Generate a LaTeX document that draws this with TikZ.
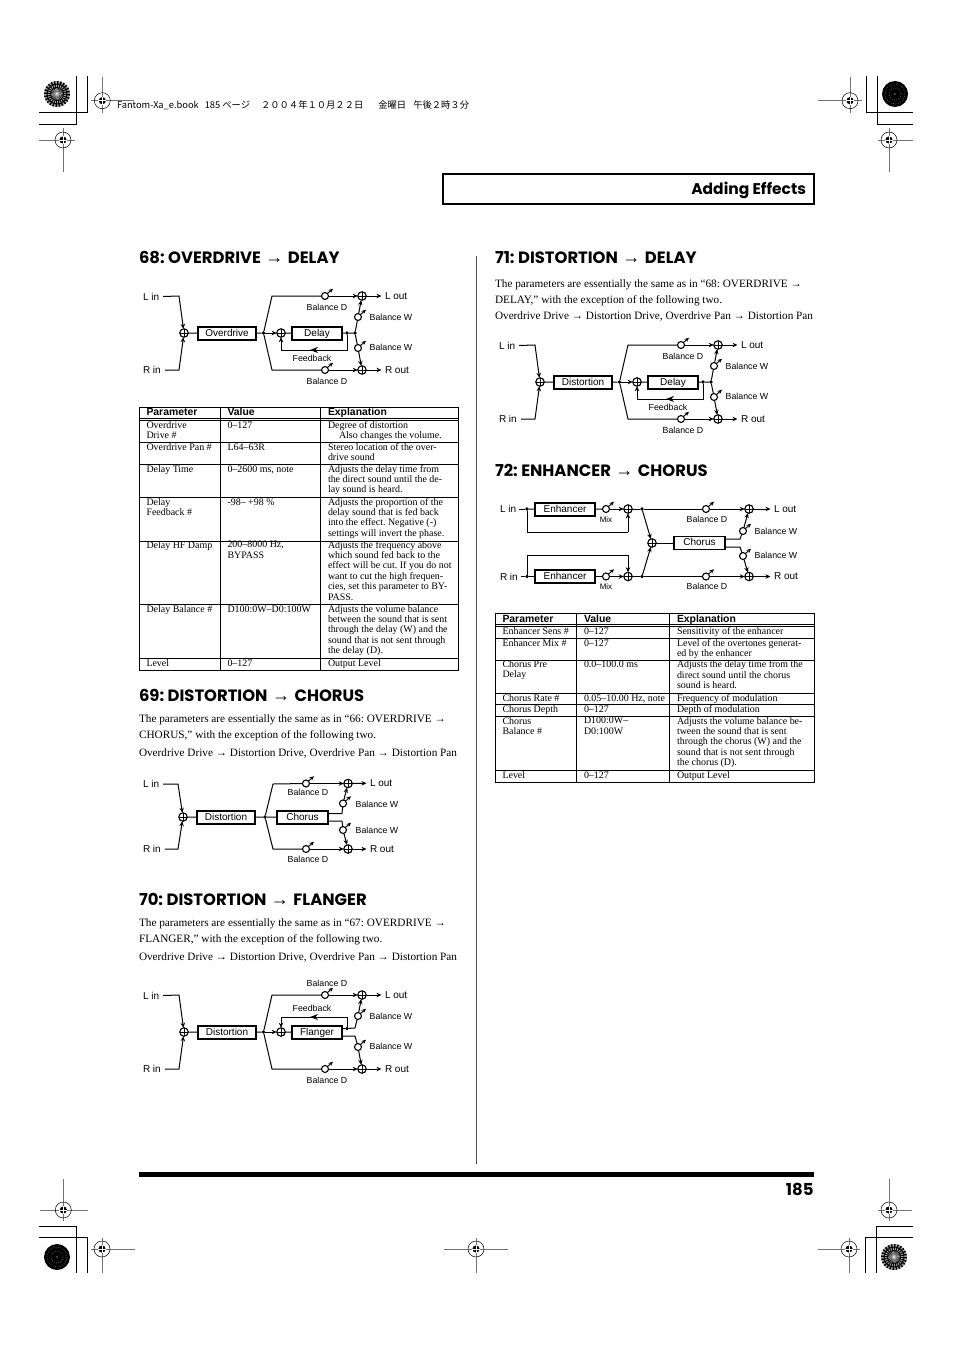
\documentclass[tikz,border=0pt]{standalone}
\usepackage{fontspec}
\setmainfont{Liberation Serif}
\setsansfont{Liberation Sans}
\newfontfamily\hdfont{Poppins}
\newfontfamily\jpfont{Noto Sans CJK JP}
\usetikzlibrary{arrows.meta}
\newcounter{cellno}
\newcommand\fs[2]{\fontsize{#1}{#2}\selectfont}
\frenchspacing
\tikzset{
  every node/.style={inner sep=0pt,outer sep=0pt},
  flow/.style={line width=1pt},
  tip/.style={flow,-{Stealth[length=5pt,width=4.4pt]}},
  outtip/.style={tip,shorten >=3.5pt},
  midtip/.style={flow,-{Stealth[length=8pt,width=6pt]}},
  sumj/.style={circle,draw,fill=white,line width=1.1pt,minimum size=8.5pt,
    path picture={\draw[line width=.55pt] (path picture bounding box.north)--(path picture bounding box.south)
      (path picture bounding box.west)--(path picture bounding box.east);}},
  knob/.style={circle,draw,fill=white,line width=1.1pt,minimum size=7pt},
  knobarrow/.style={line width=.9pt,-{Stealth[length=4.5pt,width=4pt]}},
  dot/.style={circle,fill=black,minimum size=3.6pt},
  fxbox/.style={draw,fill=white,line width=1.1pt,minimum width=#1,minimum height=13pt,text height=7.2pt,text depth=2pt,font=\sffamily\fs{10}{12}},
  fxbox/.default=50pt,
  io/.style={font=\sffamily\fs{10}{12},anchor=west},
  lab/.style={font=\sffamily\fs{8.8}{10}},
  cell/.style={anchor=north west,align=left,font=\fs{9.95}{10.4},yshift=3.9pt,execute at begin node=\strut},
  hcell/.style={anchor=base west,font=\sffamily\bfseries\fs{10.4}{12}},
  body/.style={anchor=north west,align=left,font=\fs{11.25}{16},yshift=5.6pt,execute at begin node=\strut},
  heading/.style={anchor=west,font=\hdfont\bfseries\fs{16.4}{18}},
  rule/.style={line width=.6pt},
  crop/.style={line width=.7pt,black},
  hair/.style={line width=.6pt,black!55},
}
\newcommand\Ar{{\rmfamily\mdseries\fs{18}{18}\ →\ }}
\newcommand\knobat[2]{\node[knob] (#1) at (#2) {};\draw[knobarrow] (#1.north east) -- ++(5.5,-4.8);}
% common frame of the delay / flanger diagrams (68, 70, 71)
\newcommand\dlBase[2]{%
  \node[io] (#1li) at (143,296.5) {L in};
  \node[io] (#1ri) at (143,370) {R in};
  \node[sumj] (#1s) at (184,333) {};
  \coordinate (#1a) at (179,296);
  \coordinate (#1b) at (179,370);
  \draw[tip] (#1li.east)++(4,0) -- (#1a) -- (#1s);
  \draw[tip] (#1ri.east)++(4,0) -- (#1b) -- (#1s);
  \node[fxbox=58pt] (#1fx) at (227,333.5) {#2};
  \draw[flow] (#1s) -- (#1fx);
  \node[dot] (#1j) at (263.5,333) {};
  \draw[flow] (#1fx) -- (#1j);
  \node[sumj] (#1i) at (281,333) {};
  \draw[tip] (#1j) -- (#1i);
  \coordinate (#1u) at (272,296);
  \coordinate (#1v) at (272,370);
  \knobat{#1kdu}{325,296}
  \knobat{#1kdl}{325,370}
  \node[sumj] (#1su) at (362,296) {};
  \node[sumj] (#1sl) at (362,370) {};
  \draw[flow] (#1j) -- (#1u) -- (#1kdu);
  \draw[flow] (#1j) -- (#1v) -- (#1kdl);
  \draw[tip] (#1kdu) -- (#1su);
  \draw[tip] (#1kdl) -- (#1sl);
  \node[io] (#1lo) at (385,296) {L out};
  \node[io] (#1ro) at (385,370) {R out};
  \draw[outtip] (#1su) -- (#1lo);
  \draw[outtip] (#1sl) -- (#1ro);
  \knobat{#1kwu}{358,317}
  \knobat{#1kwl}{358,348}
  \draw[tip] (#1kwu) -- (#1su);
  \draw[tip] (#1kwl) -- (#1sl);
  \node[lab] (#1lwu) at (391,317) {Balance W};
  \node[lab] (#1lwl) at (391,347) {Balance W};
}
% second stage with feedback running below the box
\newcommand\dlDelay[2]{%
  \node[fxbox] (#1fy) at (317,333.5) {#2};
  \draw[flow] (#1i) -- (#1fy);
  \node[dot] (#1d1) at (347,333) {};
  \node[dot] (#1d2) at (355,333) {};
  \draw[flow] (#1fy) -- (#1d1) -- (#1d2);
  \draw[flow] (#1d2) -- (#1kwu);
  \draw[flow] (#1d2) -- (#1kwl);
  \coordinate (#1f1) at (347,350);
  \coordinate (#1f2) at (281,350);
  \coordinate (#1f3) at (310,350);
  \draw[flow] (#1d1) -- (#1f1) -- (#1f2);
  \draw[tip] (#1f2) -- (#1i);
  \draw[midtip] (#1f1) -- (#1f3);
  \node[lab] (#1lf) at (312,358) {Feedback};
  \node[lab] (#1ldu) at (327,307) {Balance D};
  \node[lab] (#1ldl) at (327,381) {Balance D};
}
\newcommand\regmark[6]{%
  \draw[hair] (#3,#2) -- (#4,#2) (#1,#5) -- (#1,#6);
  \draw[line width=.5pt] (#1,#2) circle (8);
  \fill (#1,#2) circle (3.6);
  \draw[white,line width=.7pt] (#1-4,#2) -- (#1+4,#2) (#1,#2-4) -- (#1,#2+4);
}
\newcommand\sunburst[2]{%
  \fill[black!35] (#1,#2) circle (13);
  \foreach \a in {0,15,...,345} {
    \fill (#1,#2) ++(\a:2.5) -- ++(\a:10.5) arc[start angle=\a,end angle=\a+7.5,radius=13] -- cycle;
  }
  \draw[black,line width=.9pt] (#1,#2) circle (6.5) circle (10);
  \fill[white] (#1,#2) circle (1);
}
\newcommand\blackdisc[2]{%
  \fill (#1,#2) circle (13);
  \draw[black!55,line width=.6pt,dash pattern=on .8pt off 1.6pt] (#1,#2) circle (6) circle (10);
  \fill[white] (#1,#2) circle (.6);
}
\newcommand\tc[3]{\stepcounter{cellno}\node[cell] (c\arabic{cellno}) at (#1,#2) {#3};}
\newcommand\tablegrid[7]{% x0 x1 x2 x3 ytop yhead ybottom
  \draw[rule] (#1,#5) rectangle (#4,#7);
  \draw[rule] (#2,#5) -- (#2,#7) (#3,#5) -- (#3,#7);
  \draw[rule] (#1,#6) -- (#4,#6) (#1,#6+2) -- (#4,#6+2);
}
\begin{document}
\begin{tikzpicture}[x=1pt,y=-1pt]
\useasboundingbox (0,0) rectangle (954,1351);
\fill[white] (0,0) rectangle (954,1351);

%---- crop marks
\draw[crop] (87.7,76) -- (87.7,112.7) -- (39,112.7);
\draw[crop] (76.7,76) -- (76.7,124) -- (39,124);
\draw[crop] (866,76) -- (866,112.7) -- (913,112.7);
\draw[crop] (877,76) -- (877,124) -- (913,124);
\draw[crop] (76.7,1273) -- (76.7,1226) -- (39,1226);
\draw[crop] (87.7,1273) -- (87.7,1237) -- (39,1237);
\draw[crop] (876.5,1273) -- (876.5,1226) -- (913,1226);
\draw[crop] (865.6,1273) -- (865.6,1237) -- (913,1237);
\regmark{102.3}{100.7}{91}{134}{77}{113}
\regmark{63}{140}{39}{75}{128}{172}
\regmark{850}{100.7}{818}{862}{77}{113}
\regmark{889}{140}{878}{913}{128}{172}
\regmark{63.3}{1210}{40}{87.5}{1179}{1221}
\regmark{102}{1249}{91}{134.5}{1238}{1273}
\regmark{476}{1249}{444}{508}{1238}{1273}
\regmark{849}{1249}{818}{860}{1238}{1273}
\regmark{889}{1210}{878}{912}{1179}{1221}
\sunburst{57}{94}
\blackdisc{895}{94}
\blackdisc{57}{1257}
\sunburst{894}{1257}
\node[anchor=west,font=\jpfont\fs{9.3}{11}] (book) at (117,105) {Fantom-Xa\_e.book\hspace*{6pt}185 ページ\hspace*{11pt}２００４年１０月２２日\hspace*{15pt}金曜日\hspace*{7pt}午後２時３分};

%---- page furniture
\node[draw,line width=2pt,minimum width=370.5pt,minimum height=29.5pt] (titlebox) at (628.5,189) {};
\node[anchor=base east,font=\hdfont\bfseries\fs{15.5}{18}] (title) at (806,195) {Adding Effects};
\draw[line width=.5pt,black!70] (476,256) -- (476,1164);
\fill (139,1172) rectangle (814,1177);
\node[anchor=east,font=\hdfont\bfseries\fs{16.5}{18}] (pageno) at (813.5,1189) {185};

%---- headings
\node[heading] (h68) at (139,258) {68: OVERDRIVE\Ar DELAY};
\node[heading] (h69) at (139,695.5) {69: DISTORTION\Ar CHORUS};
\node[heading] (h70) at (139,899.5) {70: DISTORTION\Ar FLANGER};
\node[heading] (h71) at (495,258) {71: DISTORTION\Ar DELAY};
\node[heading] (h72) at (495,470.5) {72: ENHANCER\Ar CHORUS};

%---- paragraphs
\node[body] (p69) at (139,720.5) {The parameters are essentially the same as in “66: OVERDRIVE →\\CHORUS,” with the exception of the following two.};
\node[body] (q69) at (139,751) {Overdrive Drive → Distortion Drive, Overdrive Pan → Distortion Pan};
\node[body] (p70) at (139,924.5) {The parameters are essentially the same as in “67: OVERDRIVE →\\FLANGER,” with the exception of the following two.};
\node[body] (q70) at (139,955) {Overdrive Drive → Distortion Drive, Overdrive Pan → Distortion Pan};
\node[body] (p71) at (495,285) {The parameters are essentially the same as in “68: OVERDRIVE →\\DELAY,” with the exception of the following two.};
\node[body] (q71) at (495,314) {Overdrive Drive → Distortion Drive, Overdrive Pan → Distortion Pan};

%---- diagram 68
\begin{scope}
  \dlBase{a}{Overdrive}
  \dlDelay{a}{Delay}
\end{scope}

%---- diagram 71
\begin{scope}[shift={(356,49)}]
  \dlBase{d}{Distortion}
  \dlDelay{d}{Delay}
\end{scope}

%---- diagram 70
\begin{scope}[shift={(0,699)}]
  \dlBase{c}{Distortion}
  \node[fxbox] (cfy) at (317,333.5) {Flanger};
  \draw[flow] (ci) -- (cfy);
  \node[dot] (cd1) at (347,329.5) {};
  \coordinate (cd2) at (355,329);
  \coordinate (cd3) at (355,337);
  \coordinate (co1) at (342,329.5);
  \coordinate (co2) at (342,337);
  \draw[flow] (co1) -- (cd1) -- (cd2) -- (ckwu);
  \draw[flow] (co2) -- (cd3) -- (ckwl);
  \coordinate (cf1) at (347,318);
  \coordinate (cf2) at (281,318);
  \coordinate (cf3) at (310,318);
  \draw[flow] (cd1) -- (cf1) -- (cf2);
  \draw[tip] (cf2) -- (ci);
  \draw[midtip] (cf1) -- (cf3);
  \node[lab] (clf) at (312,309) {Feedback};
  \node[lab] (cldu) at (327,284) {Balance D};
  \node[lab] (cldl) at (327,381) {Balance D};
\end{scope}

%---- diagram 69
\node[io] (bli) at (143,784) {L in};
\node[io] (bri) at (143,849) {R in};
\node[sumj] (bs) at (183,817) {};
\coordinate (ba) at (178,784);
\coordinate (bb) at (178,849);
\draw[tip] (bli.east)++(4,0) -- (ba) -- (bs);
\draw[tip] (bri.east)++(4,0) -- (bb) -- (bs);
\node[fxbox=58pt] (bfx) at (226,817.5) {Distortion};
\draw[flow] (bs) -- (bfx);
\node[dot] (bj) at (265,817) {};
\draw[flow] (bfx) -- (bj);
\node[fxbox=51pt] (bfy) at (302.5,817.5) {Chorus};
\draw[flow] (bj) -- (bfy);
\coordinate (bu) at (273,784);
\coordinate (bv) at (273,849);
\knobat{bkdu}{306,783.5}
\knobat{bkdl}{306,849}
\node[sumj] (bsu) at (348,783.5) {};
\node[sumj] (bsl) at (348,849) {};
\draw[flow] (bj) -- (bu) -- (bkdu);
\draw[flow] (bj) -- (bv) -- (bkdl);
\draw[tip] (bkdu) -- (bsu);
\draw[tip] (bkdl) -- (bsl);
\node[io] (blo) at (370,783) {L out};
\node[io] (bro) at (370,849) {R out};
\draw[outtip] (bsu) -- (blo);
\draw[outtip] (bsl) -- (bro);
\knobat{bkwu}{343,803.5}
\knobat{bkwl}{343,830}
\coordinate (bo1) at (328,813.5);
\coordinate (bo2) at (342,813.5);
\coordinate (bo3) at (328,821);
\coordinate (bo4) at (342,821);
\draw[flow] (bo1) -- (bo2) -- (bkwu);
\draw[flow] (bo3) -- (bo4) -- (bkwl);
\draw[tip] (bkwu) -- (bsu);
\draw[tip] (bkwl) -- (bsl);
\node[lab] (blwu) at (377,804) {Balance W};
\node[lab] (blwl) at (377,830) {Balance W};
\node[lab] (bldu) at (308,792) {Balance D};
\node[lab] (bldl) at (308,859) {Balance D};

%---- diagram 72
\node[io] (eli) at (500,509) {L in};
\node[io] (eri) at (500,576.5) {R in};
\node[dot] (ej1) at (527,509) {};
\node[dot] (ej2) at (527,576.5) {};
\draw[flow] (eli.east) ++(3,0) -- (ej1);
\draw[flow] (eri.east) ++(3,0) -- (ej2);
\node[fxbox=60pt] (ebu) at (565,509.5) {Enhancer};
\node[fxbox=60pt] (ebl) at (565,576.5) {Enhancer};
\draw[flow] (ej1) -- (ebu);
\draw[flow] (ej2) -- (ebl);
\knobat{ekmu}{606,509}
\knobat{ekml}{606,576.5}
\node[sumj] (esu) at (628,509) {};
\node[sumj] (esl) at (628,576.5) {};
\draw[flow] (ebu) -- (ekmu);
\draw[flow] (ebl) -- (ekml);
\draw[tip] (ekmu) -- (esu);
\draw[tip] (ekml) -- (esl);
\coordinate (ec1) at (527,532);
\coordinate (ec2) at (628,532);
\coordinate (ec3) at (527,555);
\coordinate (ec4) at (628,555);
\draw[flow] (ej1) -- (ec1) -- (ec2);
\draw[tip] (ec2) -- (esu);
\draw[flow] (ej2) -- (ec3) -- (ec4);
\draw[tip] (ec4) -- (esl);
\node[lab,font=\sffamily\fs{8}{10}] (emu) at (606,520) {Mix};
\node[lab,font=\sffamily\fs{8}{10}] (eml) at (606,587) {Mix};
\node[dot] (ed1) at (642,509) {};
\node[dot] (ed2) at (642,576.5) {};
\draw[flow] (esu) -- (ed1);
\draw[flow] (esl) -- (ed2);
\node[sumj] (ec) at (652,543) {};
\draw[tip] (ed1) -- (ec);
\draw[tip] (ed2) -- (ec);
\node[fxbox=51pt] (ech) at (699.5,543) {Chorus};
\draw[flow] (ec) -- (ech);
\knobat{ekdu}{706,509}
\knobat{ekdl}{706,576.5}
\node[sumj] (eou) at (749,509) {};
\node[sumj] (eol) at (749,576.5) {};
\draw[flow] (ed1) -- (ekdu);
\draw[flow] (ed2) -- (ekdl);
\draw[tip] (ekdu) -- (eou);
\draw[tip] (ekdl) -- (eol);
\node[io] (elo) at (774,509) {L out};
\node[io] (ero) at (774,576.5) {R out};
\draw[outtip] (eou) -- (elo);
\draw[outtip] (eol) -- (ero);
\knobat{ekwu}{743,531}
\knobat{ekwl}{743,556}
\coordinate (eo1) at (725,539);
\coordinate (eo2) at (740,539);
\coordinate (eo3) at (725,547);
\coordinate (eo4) at (740,547);
\draw[flow] (eo1) -- (eo2) -- (ekwu);
\draw[flow] (eo3) -- (eo4) -- (ekwl);
\draw[tip] (ekwu) -- (eou);
\draw[tip] (ekwl) -- (eol);
\node[lab] (elwu) at (776,531) {Balance W};
\node[lab] (elwl) at (776,555) {Balance W};
\node[lab] (eldu) at (707,519) {Balance D};
\node[lab] (eldl) at (707,586) {Balance D};

%---- table 68
\tablegrid{139}{220.7}{320.7}{458.5}{407}{418.5}{670.5}
\foreach \y in {442,464,497,541,604,658} {\draw[rule] (139,\y) -- (458.5,\y);}
\node[hcell] (ta1) at (146.5,415.5) {Parameter};
\node[hcell] (ta2) at (227.5,415.5) {Value};
\node[hcell] (ta3) at (328,415.5) {Explanation};
\tc{146.5}{425}{Overdrive\\Drive \#}
\tc{227.5}{425}{0–127}
\tc{328}{425}{Degree of distortion\\\hspace*{11pt}Also changes the volume.}
\tc{146.5}{447}{Overdrive Pan \#}
\tc{227.5}{447}{L64–63R}
\tc{328}{447}{Stereo location of the over-\\drive sound}
\tc{146.5}{469}{Delay Time}
\tc{227.5}{469}{0–2600 ms, note}
\tc{328}{469}{Adjusts the delay time from\\the direct sound until the de-\\lay sound is heard.}
\tc{146.5}{502}{Delay\\Feedback \#}
\tc{227.5}{502}{-98– +98 \%}
\tc{328}{502}{Adjusts the proportion of the\\delay sound that is fed back\\into the effect. Negative (-)\\settings will invert the phase.}
\tc{146.5}{545}{Delay HF Damp}
\tc{227.5}{545}{200–8000 Hz,\\BYPASS}
\tc{328}{545}{Adjusts the frequency above\\which sound fed back to the\\effect will be cut. If you do not\\want to cut the high frequen-\\cies, set this parameter to BY-\\PASS.}
\tc{146.5}{609}{Delay Balance \#}
\tc{227.5}{609}{D100:0W–D0:100W}
\tc{328}{609}{Adjusts the volume balance\\between the sound that is sent\\through the delay (W) and the\\sound that is not sent through\\the delay (D).}
\tc{146.5}{663}{Level}
\tc{227.5}{663}{0–127}
\tc{328}{663}{Output Level}

%---- table 72
\tablegrid{495}{576.7}{669.5}{814.5}{613}{624.5}{782}
\foreach \y in {638,660,693,704,716,770} {\draw[rule] (495,\y) -- (814.5,\y);}
\node[hcell] (te1) at (502.5,622) {Parameter};
\node[hcell] (te2) at (584,622) {Value};
\node[hcell] (te3) at (677,622) {Explanation};
\tc{502.5}{631.5}{Enhancer Sens \#}
\tc{584}{631.5}{0–127}
\tc{677}{631.5}{Sensitivity of the enhancer}
\tc{502.5}{643}{Enhancer Mix \#}
\tc{584}{643}{0–127}
\tc{677}{643}{Level of the overtones generat-\\ed by the enhancer}
\tc{502.5}{664.5}{Chorus Pre\\Delay}
\tc{584}{664.5}{0.0–100.0 ms}
\tc{677}{664.5}{Adjusts the delay time from the\\direct sound until the chorus\\sound is heard.}
\tc{502.5}{698}{Chorus Rate \#}
\tc{584}{698}{0.05–10.00 Hz, note}
\tc{677}{698}{Frequency of modulation}
\tc{502.5}{709}{Chorus Depth}
\tc{584}{709}{0–127}
\tc{677}{709}{Depth of modulation}
\tc{502.5}{721}{Chorus\\Balance \#}
\tc{584}{721}{D100:0W–\\D0:100W}
\tc{677}{721}{Adjusts the volume balance be-\\tween the sound that is sent\\through the chorus (W) and the\\sound that is not sent through\\the chorus (D).}
\tc{502.5}{775}{Level}
\tc{584}{775}{0–127}
\tc{677}{775}{Output Level}
\end{tikzpicture}
\end{document}
